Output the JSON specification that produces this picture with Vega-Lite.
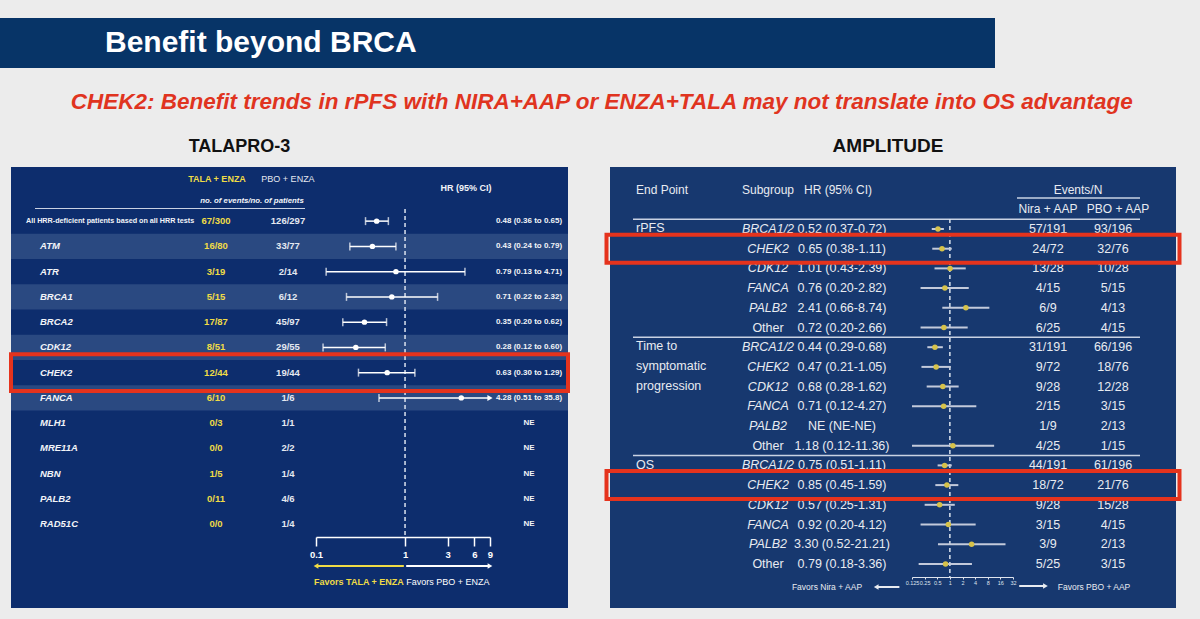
{
  "$schema": "https://vega.github.io/schema/vega-lite/v6.json",
  "background": "#ececec",
  "padding": {"top": 18, "left": 0, "right": 18, "bottom": 11},
  "config": {"view": {"stroke": null}, "font": "Liberation Sans", "title": {"font": "Liberation Sans"}},
  "spacing": 22,
  "vconcat": [
    {
      "width": 995, "height": 50,
      "view": {"fill": "#073467", "stroke": null},
      "data": {"values": [{"title": "Benefit beyond BRCA"}]},
      "mark": {"type": "text", "align": "left", "baseline": "middle", "color": "#ffffff", "fontSize": 30, "fontWeight": "bold"},
      "encoding": {
        "x": {"field": "title", "type": "nominal", "scale": {"type": "point", "range": [105, 105]}, "axis": null},
        "text": {"field": "title"}
      }
    },
    {
      "title": {"text": "CHEK2: Benefit trends in rPFS with NIRA+AAP or ENZA+TALA may not translate into OS advantage", "color": "#e0341f", "fontSize": 22.5, "fontWeight": "bold", "fontStyle": "italic", "anchor": "middle", "dx": 8, "offset": 24},
      "spacing": 8,
      "hconcat": [
        {"width": 1, "height": 1, "data": {"values": []}, "mark": "point"},
        {
          "spacing": 28,
          "hconcat": [
            {
              "width": 557, "height": 441,
              "view": {"fill": "#0d2d6d", "stroke": null},
              "title": {"text": "TALAPRO-3", "fontSize": 18, "fontWeight": "bold", "color": "#111111", "dx": -50, "offset": 11},
              "data": {"values": [
                {"gene": "All HRR-deficient patients based on all HRR tests", "tala": "67/300", "pbo": "126/297", "hr": 0.48, "lo": 0.36, "hi": 0.65, "ci": "0.48 (0.36 to 0.65)"},
                {"gene": "ATM", "tala": "16/80", "pbo": "33/77", "hr": 0.43, "lo": 0.24, "hi": 0.79, "ci": "0.43 (0.24 to 0.79)"},
                {"gene": "ATR", "tala": "3/19", "pbo": "2/14", "hr": 0.79, "lo": 0.13, "hi": 4.71, "ci": "0.79 (0.13 to 4.71)"},
                {"gene": "BRCA1", "tala": "5/15", "pbo": "6/12", "hr": 0.71, "lo": 0.22, "hi": 2.32, "ci": "0.71 (0.22 to 2.32)"},
                {"gene": "BRCA2", "tala": "17/87", "pbo": "45/97", "hr": 0.35, "lo": 0.20, "hi": 0.62, "ci": "0.35 (0.20 to 0.62)"},
                {"gene": "CDK12", "tala": "8/51", "pbo": "29/55", "hr": 0.28, "lo": 0.12, "hi": 0.60, "ci": "0.28 (0.12 to 0.60)"},
                {"gene": "CHEK2", "tala": "12/44", "pbo": "19/44", "hr": 0.63, "lo": 0.30, "hi": 1.29, "ci": "0.63 (0.30 to 1.29)"},
                {"gene": "FANCA", "tala": "6/10", "pbo": "1/6", "hr": 4.28, "lo": 0.51, "hi": 35.8, "ci": "4.28 (0.51 to 35.8)"},
                {"gene": "MLH1", "tala": "0/3", "pbo": "1/1", "hr": null, "lo": null, "hi": null, "ci": "NE"},
                {"gene": "MRE11A", "tala": "0/0", "pbo": "2/2", "hr": null, "lo": null, "hi": null, "ci": "NE"},
                {"gene": "NBN", "tala": "1/5", "pbo": "1/4", "hr": null, "lo": null, "hi": null, "ci": "NE"},
                {"gene": "PALB2", "tala": "0/11", "pbo": "4/6", "hr": null, "lo": null, "hi": null, "ci": "NE"},
                {"gene": "RAD51C", "tala": "0/0", "pbo": "1/4", "hr": null, "lo": null, "hi": null, "ci": "NE"}
              ]},
              "resolve": {"scale": {"x": "independent", "y": "independent", "color": "independent", "shape": "independent"}},
              "layer": [
                {
                  "transform": [{"filter": "indexof(['ATM','BRCA1','CDK12','FANCA'], datum.gene) >= 0"}],
                  "mark": {"type": "rect", "color": "#2a4981"},
                  "encoding": {"y": {"field": "gene", "type": "nominal", "scale": {"type": "band", "domain": ["All HRR-deficient patients based on all HRR tests","ATM","ATR","BRCA1","BRCA2","CDK12","CHEK2","FANCA","MLH1","MRE11A","NBN","PALB2","RAD51C"], "range": [41.5, 369.75], "paddingInner": 0, "paddingOuter": 0}, "axis": null}}
                },
                {
                  "transform": [{"filter": "datum.gene == 'All HRR-deficient patients based on all HRR tests'"}],
                  "mark": {"type": "rule", "color": "#c9d1e2", "strokeWidth": 1},
                  "encoding": {
                    "y": {"field": "gene", "type": "nominal", "bandPosition": 0, "scale": {"type": "band", "domain": ["All HRR-deficient patients based on all HRR tests","ATM","ATR","BRCA1","BRCA2","CDK12","CHEK2","FANCA","MLH1","MRE11A","NBN","PALB2","RAD51C"], "range": [41.5, 369.75], "paddingInner": 0, "paddingOuter": 0}, "axis": null},
                    "x": {"datum": 0, "type": "quantitative", "scale": {"domain": [0, 1], "range": [24, 294]}, "axis": null},
                    "x2": {"datum": 1}
                  }
                },
                {
                  "data": {"values": [{"ref": 1}]},
                  "mark": {"type": "rule", "color": "#dbe2ee", "strokeWidth": 1.5, "strokeDash": [4, 3]},
                  "encoding": {
                    "x": {"field": "ref", "type": "quantitative", "scale": {"type": "log", "domain": [0.1, 9], "range": [305, 479], "clamp": true}, "axis": null},
                    "y": {"datum": 0, "type": "quantitative", "scale": {"domain": [0, 1], "range": [42, 370]}, "axis": null},
                    "y2": {"datum": 1}
                  }
                },
                {
                  "transform": [{"filter": "datum.hr != null"}],
                  "mark": {"type": "rule", "color": "#ffffff", "strokeWidth": 1.5},
                  "encoding": {
                    "x": {"field": "lo", "type": "quantitative", "scale": {"type": "log", "domain": [0.1, 9], "range": [305, 479], "clamp": true},
                      "axis": {"orient": "bottom", "offset": -71, "values": [0.1, 1, 3, 6, 9], "format": "~g", "title": null, "grid": false, "domainColor": "#ffffff", "domainWidth": 1.5, "tickColor": "#ffffff", "tickWidth": 1.5, "tickSize": 9, "labelColor": "#ffffff", "labelFontSize": 9.5, "labelFontWeight": "bold", "labelPadding": 3, "labelFlush": false}},
                    "x2": {"field": "hi"},
                    "y": {"field": "gene", "type": "nominal", "scale": {"type": "band", "domain": ["All HRR-deficient patients based on all HRR tests","ATM","ATR","BRCA1","BRCA2","CDK12","CHEK2","FANCA","MLH1","MRE11A","NBN","PALB2","RAD51C"], "range": [41.5, 369.75], "paddingInner": 0, "paddingOuter": 0}, "axis": null}
                  }
                },
                {
                  "transform": [{"filter": "datum.hr != null"}],
                  "mark": {"type": "tick", "color": "#ffffff", "thickness": 1.5, "size": 8, "orient": "vertical"},
                  "encoding": {
                    "x": {"field": "lo", "type": "quantitative", "scale": {"type": "log", "domain": [0.1, 9], "range": [305, 479], "clamp": true}, "axis": null},
                    "y": {"field": "gene", "type": "nominal", "scale": {"type": "band", "domain": ["All HRR-deficient patients based on all HRR tests","ATM","ATR","BRCA1","BRCA2","CDK12","CHEK2","FANCA","MLH1","MRE11A","NBN","PALB2","RAD51C"], "range": [41.5, 369.75], "paddingInner": 0, "paddingOuter": 0}, "axis": null}
                  }
                },
                {
                  "transform": [{"filter": "datum.hr != null && datum.hi <= 9"}],
                  "mark": {"type": "tick", "color": "#ffffff", "thickness": 1.5, "size": 8, "orient": "vertical"},
                  "encoding": {
                    "x": {"field": "hi", "type": "quantitative", "scale": {"type": "log", "domain": [0.1, 9], "range": [305, 479], "clamp": true}, "axis": null},
                    "y": {"field": "gene", "type": "nominal", "scale": {"type": "band", "domain": ["All HRR-deficient patients based on all HRR tests","ATM","ATR","BRCA1","BRCA2","CDK12","CHEK2","FANCA","MLH1","MRE11A","NBN","PALB2","RAD51C"], "range": [41.5, 369.75], "paddingInner": 0, "paddingOuter": 0}, "axis": null}
                  }
                },
                {
                  "transform": [{"filter": "datum.hr != null && datum.hi > 9"}],
                  "mark": {"type": "point", "shape": "triangle-right", "filled": true, "color": "#ffffff", "size": 36, "opacity": 1},
                  "encoding": {
                    "x": {"field": "hi", "type": "quantitative", "scale": {"type": "log", "domain": [0.1, 9], "range": [305, 479], "clamp": true}, "axis": null},
                    "y": {"field": "gene", "type": "nominal", "scale": {"type": "band", "domain": ["All HRR-deficient patients based on all HRR tests","ATM","ATR","BRCA1","BRCA2","CDK12","CHEK2","FANCA","MLH1","MRE11A","NBN","PALB2","RAD51C"], "range": [41.5, 369.75], "paddingInner": 0, "paddingOuter": 0}, "axis": null}
                  }
                },
                {
                  "transform": [{"filter": "datum.hr != null"}],
                  "mark": {"type": "point", "shape": "circle", "filled": true, "color": "#ffffff", "size": 30, "opacity": 1},
                  "encoding": {
                    "x": {"field": "hr", "type": "quantitative", "scale": {"type": "log", "domain": [0.1, 9], "range": [305, 479], "clamp": true}, "axis": null},
                    "y": {"field": "gene", "type": "nominal", "scale": {"type": "band", "domain": ["All HRR-deficient patients based on all HRR tests","ATM","ATR","BRCA1","BRCA2","CDK12","CHEK2","FANCA","MLH1","MRE11A","NBN","PALB2","RAD51C"], "range": [41.5, 369.75], "paddingInner": 0, "paddingOuter": 0}, "axis": null}
                  }
                },
                {
                  "transform": [{"filter": "datum.gene == 'All HRR-deficient patients based on all HRR tests'"}],
                  "mark": {"type": "text", "align": "left", "baseline": "middle", "color": "#f2f4f8", "fontSize": 7.2, "fontWeight": "bold"},
                  "encoding": {
                    "x": {"field": "gene", "type": "nominal", "scale": {"type": "point", "range": [15, 15]}, "axis": null},
                    "y": {"field": "gene", "type": "nominal", "scale": {"type": "band", "domain": ["All HRR-deficient patients based on all HRR tests","ATM","ATR","BRCA1","BRCA2","CDK12","CHEK2","FANCA","MLH1","MRE11A","NBN","PALB2","RAD51C"], "range": [41.5, 369.75], "paddingInner": 0, "paddingOuter": 0}, "axis": null},
                    "text": {"field": "gene"}
                  }
                },
                {
                  "transform": [{"filter": "datum.gene != 'All HRR-deficient patients based on all HRR tests'"}],
                  "mark": {"type": "text", "align": "left", "baseline": "middle", "color": "#f2f4f8", "fontSize": 9.5, "fontWeight": "bold", "fontStyle": "italic"},
                  "encoding": {
                    "x": {"field": "gene", "type": "nominal", "scale": {"type": "point", "range": [29, 29]}, "axis": null},
                    "y": {"field": "gene", "type": "nominal", "scale": {"type": "band", "domain": ["All HRR-deficient patients based on all HRR tests","ATM","ATR","BRCA1","BRCA2","CDK12","CHEK2","FANCA","MLH1","MRE11A","NBN","PALB2","RAD51C"], "range": [41.5, 369.75], "paddingInner": 0, "paddingOuter": 0}, "axis": null},
                    "text": {"field": "gene"}
                  }
                },
                {
                  "mark": {"type": "text", "align": "center", "baseline": "middle", "color": "#f0dc46", "fontSize": 9.5, "fontWeight": "bold"},
                  "encoding": {
                    "x": {"field": "tala", "type": "nominal", "scale": {"type": "point", "range": [205, 205]}, "axis": null},
                    "y": {"field": "gene", "type": "nominal", "scale": {"type": "band", "domain": ["All HRR-deficient patients based on all HRR tests","ATM","ATR","BRCA1","BRCA2","CDK12","CHEK2","FANCA","MLH1","MRE11A","NBN","PALB2","RAD51C"], "range": [41.5, 369.75], "paddingInner": 0, "paddingOuter": 0}, "axis": null},
                    "text": {"field": "tala"}
                  }
                },
                {
                  "mark": {"type": "text", "align": "center", "baseline": "middle", "color": "#e4e8f0", "fontSize": 9.5, "fontWeight": "bold"},
                  "encoding": {
                    "x": {"field": "pbo", "type": "nominal", "scale": {"type": "point", "range": [277, 277]}, "axis": null},
                    "y": {"field": "gene", "type": "nominal", "scale": {"type": "band", "domain": ["All HRR-deficient patients based on all HRR tests","ATM","ATR","BRCA1","BRCA2","CDK12","CHEK2","FANCA","MLH1","MRE11A","NBN","PALB2","RAD51C"], "range": [41.5, 369.75], "paddingInner": 0, "paddingOuter": 0}, "axis": null},
                    "text": {"field": "pbo"}
                  }
                },
                {
                  "mark": {"type": "text", "align": "center", "baseline": "middle", "color": "#f2f4f8", "fontSize": 8, "fontWeight": "bold"},
                  "encoding": {
                    "x": {"field": "ci", "type": "nominal", "scale": {"type": "point", "range": [518, 518]}, "axis": null},
                    "y": {"field": "gene", "type": "nominal", "scale": {"type": "band", "domain": ["All HRR-deficient patients based on all HRR tests","ATM","ATR","BRCA1","BRCA2","CDK12","CHEK2","FANCA","MLH1","MRE11A","NBN","PALB2","RAD51C"], "range": [41.5, 369.75], "paddingInner": 0, "paddingOuter": 0}, "axis": null},
                    "text": {"field": "ci"}
                  }
                },
                {
                  "data": {"values": [{"h": "TALA + ENZA"}]},
                  "mark": {"type": "text", "align": "center", "baseline": "middle", "color": "#f0dc46", "fontSize": 9, "fontWeight": "bold"},
                  "encoding": {
                    "x": {"field": "h", "type": "nominal", "scale": {"type": "point", "range": [206, 206]}, "axis": null},
                    "y": {"field": "h", "type": "nominal", "scale": {"type": "point", "range": [12, 12]}, "axis": null},
                    "text": {"field": "h"}
                  }
                },
                {
                  "data": {"values": [{"h": "PBO + ENZA"}]},
                  "mark": {"type": "text", "align": "center", "baseline": "middle", "color": "#e4e8f0", "fontSize": 9},
                  "encoding": {
                    "x": {"field": "h", "type": "nominal", "scale": {"type": "point", "range": [277, 277]}, "axis": null},
                    "y": {"field": "h", "type": "nominal", "scale": {"type": "point", "range": [12, 12]}, "axis": null},
                    "text": {"field": "h"}
                  }
                },
                {
                  "data": {"values": [{"h": "no. of events/no. of patients"}]},
                  "mark": {"type": "text", "align": "center", "baseline": "middle", "color": "#f2f4f8", "fontSize": 7.8, "fontWeight": "bold", "fontStyle": "italic"},
                  "encoding": {
                    "x": {"field": "h", "type": "nominal", "scale": {"type": "point", "range": [241, 241]}, "axis": null},
                    "y": {"field": "h", "type": "nominal", "scale": {"type": "point", "range": [34, 34]}, "axis": null},
                    "text": {"field": "h"}
                  }
                },
                {
                  "data": {"values": [{"h": "HR (95% CI)"}]},
                  "mark": {"type": "text", "align": "center", "baseline": "middle", "color": "#f2f4f8", "fontSize": 9, "fontWeight": "bold"},
                  "encoding": {
                    "x": {"field": "h", "type": "nominal", "scale": {"type": "point", "range": [455, 455]}, "axis": null},
                    "y": {"field": "h", "type": "nominal", "scale": {"type": "point", "range": [21, 21]}, "axis": null},
                    "text": {"field": "h"}
                  }
                },
                {
                  "data": {"values": [{"label": "Favors TALA + ENZA", "from": 0.97, "to": 0.1}, {"label": "Favors PBO + ENZA", "from": 1.03, "to": 9}]},
                  "mark": {"type": "rule", "strokeWidth": 2},
                  "encoding": {
                    "x": {"field": "from", "type": "quantitative", "scale": {"type": "log", "domain": [0.1, 9], "range": [305, 479], "clamp": true}, "axis": null},
                    "x2": {"field": "to"},
                    "y": {"field": "label", "type": "nominal", "scale": {"type": "point", "range": [399, 399]}, "axis": null},
                    "color": {"field": "label", "type": "nominal", "scale": {"domain": ["Favors TALA + ENZA", "Favors PBO + ENZA"], "range": ["#f0dc46", "#ffffff"]}, "legend": null}
                  }
                },
                {
                  "data": {"values": [{"label": "Favors TALA + ENZA", "from": 0.97, "to": 0.1}, {"label": "Favors PBO + ENZA", "from": 1.03, "to": 9}]},
                  "mark": {"type": "point", "filled": true, "size": 30, "opacity": 1},
                  "encoding": {
                    "x": {"field": "to", "type": "quantitative", "scale": {"type": "log", "domain": [0.1, 9], "range": [305, 479], "clamp": true}, "axis": null},
                    "y": {"field": "label", "type": "nominal", "scale": {"type": "point", "range": [399, 399]}, "axis": null},
                    "color": {"field": "label", "type": "nominal", "scale": {"domain": ["Favors TALA + ENZA", "Favors PBO + ENZA"], "range": ["#f0dc46", "#ffffff"]}, "legend": null},
                    "shape": {"field": "label", "type": "nominal", "scale": {"domain": ["Favors TALA + ENZA", "Favors PBO + ENZA"], "range": ["triangle-left", "triangle-right"]}, "legend": null}
                  }
                },
                {
                  "data": {"values": [{"label": "Favors TALA + ENZA", "from": 0.97, "to": 0.1}]},
                  "mark": {"type": "text", "align": "right", "baseline": "middle", "color": "#f0dc46", "fontSize": 9, "fontWeight": "bold"},
                  "encoding": {
                    "x": {"field": "from", "type": "quantitative", "scale": {"type": "log", "domain": [0.1, 9], "range": [305, 479], "clamp": true}, "axis": null},
                    "y": {"field": "label", "type": "nominal", "scale": {"type": "point", "range": [415, 415]}, "axis": null},
                    "text": {"field": "label"}
                  }
                },
                {
                  "data": {"values": [{"label": "Favors PBO + ENZA", "from": 1.03, "to": 9}]},
                  "mark": {"type": "text", "align": "left", "baseline": "middle", "color": "#ffffff", "fontSize": 9},
                  "encoding": {
                    "x": {"field": "from", "type": "quantitative", "scale": {"type": "log", "domain": [0.1, 9], "range": [305, 479], "clamp": true}, "axis": null},
                    "y": {"field": "label", "type": "nominal", "scale": {"type": "point", "range": [415, 415]}, "axis": null},
                    "text": {"field": "label"}
                  }
                },
                {
                  "transform": [{"filter": "datum.gene == 'CHEK2'"}],
                  "mark": {"type": "rect", "fillOpacity": 0, "stroke": "#e5331d", "strokeWidth": 4, "height": {"band": 1.45}},
                  "encoding": {"y": {"field": "gene", "type": "nominal", "scale": {"type": "band", "domain": ["All HRR-deficient patients based on all HRR tests","ATM","ATR","BRCA1","BRCA2","CDK12","CHEK2","FANCA","MLH1","MRE11A","NBN","PALB2","RAD51C"], "range": [41.5, 369.75], "paddingInner": 0, "paddingOuter": 0}, "axis": null}}
                }
              ]
            },
            {
              "width": 566, "height": 441,
              "view": {"fill": "#17386f", "stroke": null},
              "title": {"text": "AMPLITUDE", "fontSize": 19, "fontWeight": "bold", "color": "#111111", "dx": -5, "offset": 11},
              "data": {"values": [
                {"endpoint": "rPFS", "subgroup": "BRCA1/2", "hr": 0.52, "lo": 0.37, "hi": 0.72, "ci": "0.52 (0.37-0.72)", "nira": "57/191", "pbo": "93/196"},
                {"endpoint": "rPFS", "subgroup": "CHEK2", "hr": 0.65, "lo": 0.38, "hi": 1.11, "ci": "0.65 (0.38-1.11)", "nira": "24/72", "pbo": "32/76"},
                {"endpoint": "rPFS", "subgroup": "CDK12", "hr": 1.01, "lo": 0.43, "hi": 2.39, "ci": "1.01 (0.43-2.39)", "nira": "13/28", "pbo": "10/28"},
                {"endpoint": "rPFS", "subgroup": "FANCA", "hr": 0.76, "lo": 0.20, "hi": 2.82, "ci": "0.76 (0.20-2.82)", "nira": "4/15", "pbo": "5/15"},
                {"endpoint": "rPFS", "subgroup": "PALB2", "hr": 2.41, "lo": 0.66, "hi": 8.74, "ci": "2.41 (0.66-8.74)", "nira": "6/9", "pbo": "4/13"},
                {"endpoint": "rPFS", "subgroup": "Other", "hr": 0.72, "lo": 0.20, "hi": 2.66, "ci": "0.72 (0.20-2.66)", "nira": "6/25", "pbo": "4/15"},
                {"endpoint": "Time to\nsymptomatic\nprogression", "subgroup": "BRCA1/2", "hr": 0.44, "lo": 0.29, "hi": 0.68, "ci": "0.44 (0.29-0.68)", "nira": "31/191", "pbo": "66/196"},
                {"endpoint": "Time to\nsymptomatic\nprogression", "subgroup": "CHEK2", "hr": 0.47, "lo": 0.21, "hi": 1.05, "ci": "0.47 (0.21-1.05)", "nira": "9/72", "pbo": "18/76"},
                {"endpoint": "Time to\nsymptomatic\nprogression", "subgroup": "CDK12", "hr": 0.68, "lo": 0.28, "hi": 1.62, "ci": "0.68 (0.28-1.62)", "nira": "9/28", "pbo": "12/28"},
                {"endpoint": "Time to\nsymptomatic\nprogression", "subgroup": "FANCA", "hr": 0.71, "lo": 0.12, "hi": 4.27, "ci": "0.71 (0.12-4.27)", "nira": "2/15", "pbo": "3/15"},
                {"endpoint": "Time to\nsymptomatic\nprogression", "subgroup": "PALB2", "hr": null, "lo": null, "hi": null, "ci": "NE (NE-NE)", "nira": "1/9", "pbo": "2/13"},
                {"endpoint": "Time to\nsymptomatic\nprogression", "subgroup": "Other", "hr": 1.18, "lo": 0.12, "hi": 11.36, "ci": "1.18 (0.12-11.36)", "nira": "4/25", "pbo": "1/15"},
                {"endpoint": "OS", "subgroup": "BRCA1/2", "hr": 0.75, "lo": 0.51, "hi": 1.11, "ci": "0.75 (0.51-1.11)", "nira": "44/191", "pbo": "61/196"},
                {"endpoint": "OS", "subgroup": "CHEK2", "hr": 0.85, "lo": 0.45, "hi": 1.59, "ci": "0.85 (0.45-1.59)", "nira": "18/72", "pbo": "21/76"},
                {"endpoint": "OS", "subgroup": "CDK12", "hr": 0.57, "lo": 0.25, "hi": 1.31, "ci": "0.57 (0.25-1.31)", "nira": "9/28", "pbo": "15/28"},
                {"endpoint": "OS", "subgroup": "FANCA", "hr": 0.92, "lo": 0.20, "hi": 4.12, "ci": "0.92 (0.20-4.12)", "nira": "3/15", "pbo": "4/15"},
                {"endpoint": "OS", "subgroup": "PALB2", "hr": 3.30, "lo": 0.52, "hi": 21.21, "ci": "3.30 (0.52-21.21)", "nira": "3/9", "pbo": "2/13"},
                {"endpoint": "OS", "subgroup": "Other", "hr": 0.79, "lo": 0.18, "hi": 3.36, "ci": "0.79 (0.18-3.36)", "nira": "5/25", "pbo": "3/15"}
              ]},
              "resolve": {"scale": {"x": "independent", "y": "independent", "yOffset": "independent"}},
              "layer": [
                {
                  "transform": [{"filter": "datum.subgroup == 'BRCA1/2'"}],
                  "mark": {"type": "rule", "color": "#c9d2e3", "strokeWidth": 1.5},
                  "encoding": {
                    "y": {"field": "endpoint", "type": "nominal", "bandPosition": 0, "scale": {"type": "band", "domain": ["rPFS", "Time to\nsymptomatic\nprogression", "OS"], "range": [52.15, 406.75], "paddingInner": 0, "paddingOuter": 0}, "axis": null},
                    "x": {"datum": 0, "type": "quantitative", "scale": {"domain": [0, 1], "range": [23, 530]}, "axis": null},
                    "x2": {"datum": 1}
                  }
                },
                {
                  "data": {"values": [{"h": "Events/N"}]},
                  "mark": {"type": "rule", "color": "#c9d2e3", "strokeWidth": 1.5},
                  "encoding": {
                    "y": {"field": "h", "type": "nominal", "scale": {"type": "point", "range": [31, 31]}, "axis": null},
                    "x": {"datum": 0, "type": "quantitative", "scale": {"domain": [0, 1], "range": [407, 530]}, "axis": null},
                    "x2": {"datum": 1}
                  }
                },
                {
                  "data": {"values": [{"h": "End Point"}]},
                  "mark": {"type": "text", "align": "left", "baseline": "middle", "color": "#e8ebf1", "fontSize": 12},
                  "encoding": {
                    "x": {"field": "h", "type": "nominal", "scale": {"type": "point", "range": [26, 26]}, "axis": null},
                    "y": {"field": "h", "type": "nominal", "scale": {"type": "point", "range": [23, 23]}, "axis": null},
                    "text": {"field": "h"}
                  }
                },
                {
                  "data": {"values": [{"h": "Subgroup"}, {"h": "HR (95% CI)"}]},
                  "mark": {"type": "text", "align": "center", "baseline": "middle", "color": "#e8ebf1", "fontSize": 12},
                  "encoding": {
                    "x": {"field": "h", "type": "nominal", "scale": {"type": "point", "domain": ["Subgroup", "HR (95% CI)"], "range": [158, 228], "padding": 0}, "axis": null},
                    "y": {"field": "h", "type": "nominal", "scale": {"type": "point", "range": [23, 23]}, "axis": null},
                    "text": {"field": "h"}
                  }
                },
                {
                  "data": {"values": [{"h": "Events/N"}]},
                  "mark": {"type": "text", "align": "center", "baseline": "middle", "color": "#e8ebf1", "fontSize": 12},
                  "encoding": {
                    "x": {"field": "h", "type": "nominal", "scale": {"type": "point", "range": [468, 468]}, "axis": null},
                    "y": {"field": "h", "type": "nominal", "scale": {"type": "point", "range": [23, 23]}, "axis": null},
                    "text": {"field": "h"}
                  }
                },
                {
                  "data": {"values": [{"h": "Nira + AAP"}, {"h": "PBO + AAP"}]},
                  "mark": {"type": "text", "align": "center", "baseline": "middle", "color": "#e8ebf1", "fontSize": 12},
                  "encoding": {
                    "x": {"field": "h", "type": "nominal", "scale": {"type": "point", "domain": ["Nira + AAP", "PBO + AAP"], "range": [438, 508], "padding": 0}, "axis": null},
                    "y": {"field": "h", "type": "nominal", "scale": {"type": "point", "range": [42, 42]}, "axis": null},
                    "text": {"field": "h"}
                  }
                },
                {
                  "transform": [{"filter": "datum.subgroup == 'BRCA1/2'"}],
                  "mark": {"type": "text", "align": "left", "baseline": "top", "dy": 3, "lineBreak": "\n", "lineHeight": 19.7, "color": "#e8ebf1", "fontSize": 12.5},
                  "encoding": {
                    "x": {"field": "endpoint", "type": "nominal", "scale": {"type": "point", "range": [26, 26]}, "axis": null},
                    "y": {"field": "endpoint", "type": "nominal", "bandPosition": 0, "scale": {"type": "band", "domain": ["rPFS", "Time to\nsymptomatic\nprogression", "OS"], "range": [52.15, 406.75], "paddingInner": 0, "paddingOuter": 0}, "axis": null},
                    "text": {"field": "endpoint"}
                  }
                },
                {
                  "transform": [{"filter": "datum.subgroup != 'Other'"}],
                  "mark": {"type": "text", "align": "center", "baseline": "middle", "color": "#e8ebf1", "fontSize": 12.5, "fontStyle": "italic"},
                  "encoding": {
                    "x": {"field": "subgroup", "type": "nominal", "scale": {"type": "point", "range": [158, 158]}, "axis": null},
                    "y": {"field": "endpoint", "type": "nominal", "scale": {"type": "band", "domain": ["rPFS", "Time to\nsymptomatic\nprogression", "OS"], "range": [52.15, 406.75], "paddingInner": 0, "paddingOuter": 0}, "axis": null},
                    "yOffset": {"field": "subgroup", "type": "nominal", "scale": {"type": "point", "domain": ["BRCA1/2", "CHEK2", "CDK12", "FANCA", "PALB2", "Other"], "range": [0, 118.2], "padding": 0.5}},
                    "text": {"field": "subgroup"}
                  }
                },
                {
                  "transform": [{"filter": "datum.subgroup == 'Other'"}],
                  "mark": {"type": "text", "align": "center", "baseline": "middle", "color": "#e8ebf1", "fontSize": 12.5},
                  "encoding": {
                    "x": {"field": "subgroup", "type": "nominal", "scale": {"type": "point", "range": [158, 158]}, "axis": null},
                    "y": {"field": "endpoint", "type": "nominal", "scale": {"type": "band", "domain": ["rPFS", "Time to\nsymptomatic\nprogression", "OS"], "range": [52.15, 406.75], "paddingInner": 0, "paddingOuter": 0}, "axis": null},
                    "yOffset": {"field": "subgroup", "type": "nominal", "scale": {"type": "point", "domain": ["BRCA1/2", "CHEK2", "CDK12", "FANCA", "PALB2", "Other"], "range": [0, 118.2], "padding": 0.5}},
                    "text": {"field": "subgroup"}
                  }
                },
                {
                  "mark": {"type": "text", "align": "center", "baseline": "middle", "color": "#e8ebf1", "fontSize": 12.5},
                  "encoding": {
                    "x": {"field": "ci", "type": "nominal", "scale": {"type": "point", "range": [232, 232]}, "axis": null},
                    "y": {"field": "endpoint", "type": "nominal", "scale": {"type": "band", "domain": ["rPFS", "Time to\nsymptomatic\nprogression", "OS"], "range": [52.15, 406.75], "paddingInner": 0, "paddingOuter": 0}, "axis": null},
                    "yOffset": {"field": "subgroup", "type": "nominal", "scale": {"type": "point", "domain": ["BRCA1/2", "CHEK2", "CDK12", "FANCA", "PALB2", "Other"], "range": [0, 118.2], "padding": 0.5}},
                    "text": {"field": "ci"}
                  }
                },
                {
                  "mark": {"type": "text", "align": "center", "baseline": "middle", "color": "#e8ebf1", "fontSize": 12.5},
                  "encoding": {
                    "x": {"field": "nira", "type": "nominal", "scale": {"type": "point", "range": [438, 438]}, "axis": null},
                    "y": {"field": "endpoint", "type": "nominal", "scale": {"type": "band", "domain": ["rPFS", "Time to\nsymptomatic\nprogression", "OS"], "range": [52.15, 406.75], "paddingInner": 0, "paddingOuter": 0}, "axis": null},
                    "yOffset": {"field": "subgroup", "type": "nominal", "scale": {"type": "point", "domain": ["BRCA1/2", "CHEK2", "CDK12", "FANCA", "PALB2", "Other"], "range": [0, 118.2], "padding": 0.5}},
                    "text": {"field": "nira"}
                  }
                },
                {
                  "mark": {"type": "text", "align": "center", "baseline": "middle", "color": "#e8ebf1", "fontSize": 12.5},
                  "encoding": {
                    "x": {"field": "pbo", "type": "nominal", "scale": {"type": "point", "range": [503, 503]}, "axis": null},
                    "y": {"field": "endpoint", "type": "nominal", "scale": {"type": "band", "domain": ["rPFS", "Time to\nsymptomatic\nprogression", "OS"], "range": [52.15, 406.75], "paddingInner": 0, "paddingOuter": 0}, "axis": null},
                    "yOffset": {"field": "subgroup", "type": "nominal", "scale": {"type": "point", "domain": ["BRCA1/2", "CHEK2", "CDK12", "FANCA", "PALB2", "Other"], "range": [0, 118.2], "padding": 0.5}},
                    "text": {"field": "pbo"}
                  }
                },
                {
                  "data": {"values": [{"ref": 1}]},
                  "mark": {"type": "rule", "color": "#dbe2ee", "strokeWidth": 1.5, "strokeDash": [4, 3]},
                  "encoding": {
                    "x": {"field": "ref", "type": "quantitative", "scale": {"type": "log", "base": 2, "domain": [0.125, 32], "range": [302, 403], "clamp": true}, "axis": null},
                    "y": {"datum": 0, "type": "quantitative", "scale": {"domain": [0, 1], "range": [52, 410]}, "axis": null},
                    "y2": {"datum": 1}
                  }
                },
                {
                  "transform": [{"filter": "datum.hr != null"}],
                  "mark": {"type": "rule", "color": "#c3cadb", "strokeWidth": 2},
                  "encoding": {
                    "x": {"field": "lo", "type": "quantitative", "scale": {"type": "log", "base": 2, "domain": [0.125, 32], "range": [302, 403], "clamp": true},
                      "axis": {"orient": "bottom", "offset": -31, "values": [0.125, 0.25, 0.5, 1, 2, 4, 8, 16, 32], "format": "~g", "title": null, "grid": false, "domainColor": "#dfe4ee", "tickColor": "#dfe4ee", "tickSize": 2, "labelColor": "#dfe4ee", "labelFontSize": 5.5, "labelPadding": 1, "labelFlush": false, "labelOverlap": false}},
                    "x2": {"field": "hi"},
                    "y": {"field": "endpoint", "type": "nominal", "scale": {"type": "band", "domain": ["rPFS", "Time to\nsymptomatic\nprogression", "OS"], "range": [52.15, 406.75], "paddingInner": 0, "paddingOuter": 0}, "axis": null},
                    "yOffset": {"field": "subgroup", "type": "nominal", "scale": {"type": "point", "domain": ["BRCA1/2", "CHEK2", "CDK12", "FANCA", "PALB2", "Other"], "range": [0, 118.2], "padding": 0.5}}
                  }
                },
                {
                  "transform": [{"filter": "datum.hr != null"}],
                  "mark": {"type": "point", "shape": "circle", "filled": true, "color": "#d6c24a", "size": 30, "opacity": 1},
                  "encoding": {
                    "x": {"field": "hr", "type": "quantitative", "scale": {"type": "log", "base": 2, "domain": [0.125, 32], "range": [302, 403], "clamp": true}, "axis": null},
                    "y": {"field": "endpoint", "type": "nominal", "scale": {"type": "band", "domain": ["rPFS", "Time to\nsymptomatic\nprogression", "OS"], "range": [52.15, 406.75], "paddingInner": 0, "paddingOuter": 0}, "axis": null},
                    "yOffset": {"field": "subgroup", "type": "nominal", "scale": {"type": "point", "domain": ["BRCA1/2", "CHEK2", "CDK12", "FANCA", "PALB2", "Other"], "range": [0, 118.2], "padding": 0.5}}
                  }
                },
                {
                  "data": {"values": [{"label": "Favors Nira + AAP"}, {"label": "Favors PBO + AAP"}]},
                  "mark": {"type": "text", "align": "center", "baseline": "middle", "color": "#e8ebf1", "fontSize": 8.5},
                  "encoding": {
                    "x": {"field": "label", "type": "nominal", "scale": {"type": "point", "domain": ["Favors Nira + AAP", "Favors PBO + AAP"], "range": [217, 484], "padding": 0}, "axis": null},
                    "y": {"field": "label", "type": "nominal", "scale": {"type": "point", "range": [420, 420]}, "axis": null},
                    "text": {"field": "label"}
                  }
                },
                {
                  "data": {"values": [{"label": "Favors Nira + AAP"}]},
                  "mark": {"type": "rule", "color": "#e8ebf1", "strokeWidth": 2},
                  "encoding": {
                    "x": {"datum": 0.0625, "type": "quantitative", "scale": {"type": "log", "base": 2, "domain": [0.125, 32], "range": [302, 403]}, "axis": null},
                    "x2": {"datum": 0.0175},
                    "y": {"field": "label", "type": "nominal", "scale": {"type": "point", "range": [420, 420]}, "axis": null}
                  }
                },
                {
                  "data": {"values": [{"label": "Favors Nira + AAP"}]},
                  "mark": {"type": "point", "shape": "triangle-left", "filled": true, "color": "#e8ebf1", "size": 30, "opacity": 1},
                  "encoding": {
                    "x": {"datum": 0.0175, "type": "quantitative", "scale": {"type": "log", "base": 2, "domain": [0.125, 32], "range": [302, 403]}, "axis": null},
                    "y": {"field": "label", "type": "nominal", "scale": {"type": "point", "range": [420, 420]}, "axis": null}
                  }
                },
                {
                  "data": {"values": [{"label": "Favors PBO + AAP"}]},
                  "mark": {"type": "rule", "color": "#e8ebf1", "strokeWidth": 2},
                  "encoding": {
                    "x": {"datum": 45, "type": "quantitative", "scale": {"type": "log", "base": 2, "domain": [0.125, 32], "range": [302, 403]}, "axis": null},
                    "x2": {"datum": 190},
                    "y": {"field": "label", "type": "nominal", "scale": {"type": "point", "range": [419, 419]}, "axis": null}
                  }
                },
                {
                  "data": {"values": [{"label": "Favors PBO + AAP"}]},
                  "mark": {"type": "point", "shape": "triangle-right", "filled": true, "color": "#e8ebf1", "size": 30, "opacity": 1},
                  "encoding": {
                    "x": {"datum": 190, "type": "quantitative", "scale": {"type": "log", "base": 2, "domain": [0.125, 32], "range": [302, 403]}, "axis": null},
                    "y": {"field": "label", "type": "nominal", "scale": {"type": "point", "range": [419, 419]}, "axis": null}
                  }
                },
                {
                  "transform": [{"filter": "datum.subgroup == 'CHEK2' && datum.endpoint != 'Time to\\nsymptomatic\\nprogression'"}],
                  "mark": {"type": "point", "shape": "M-1,-0.0489L1,-0.0489L1,0.0489L-1,0.0489Z", "filled": false, "stroke": "#e5331d", "strokeWidth": 4, "size": 328329, "opacity": 1, "strokeOpacity": 1},
                  "encoding": {
                    "y": {"field": "endpoint", "type": "nominal", "scale": {"type": "band", "domain": ["rPFS", "Time to\nsymptomatic\nprogression", "OS"], "range": [52.15, 406.75], "paddingInner": 0, "paddingOuter": 0}, "axis": null},
                    "yOffset": {"field": "subgroup", "type": "nominal", "scale": {"type": "point", "domain": ["BRCA1/2", "CHEK2", "CDK12", "FANCA", "PALB2", "Other"], "range": [0, 118.2], "padding": 0.5}}
                  }
                }
              ]
            }
          ]
        }
      ]
    }
  ]
}
